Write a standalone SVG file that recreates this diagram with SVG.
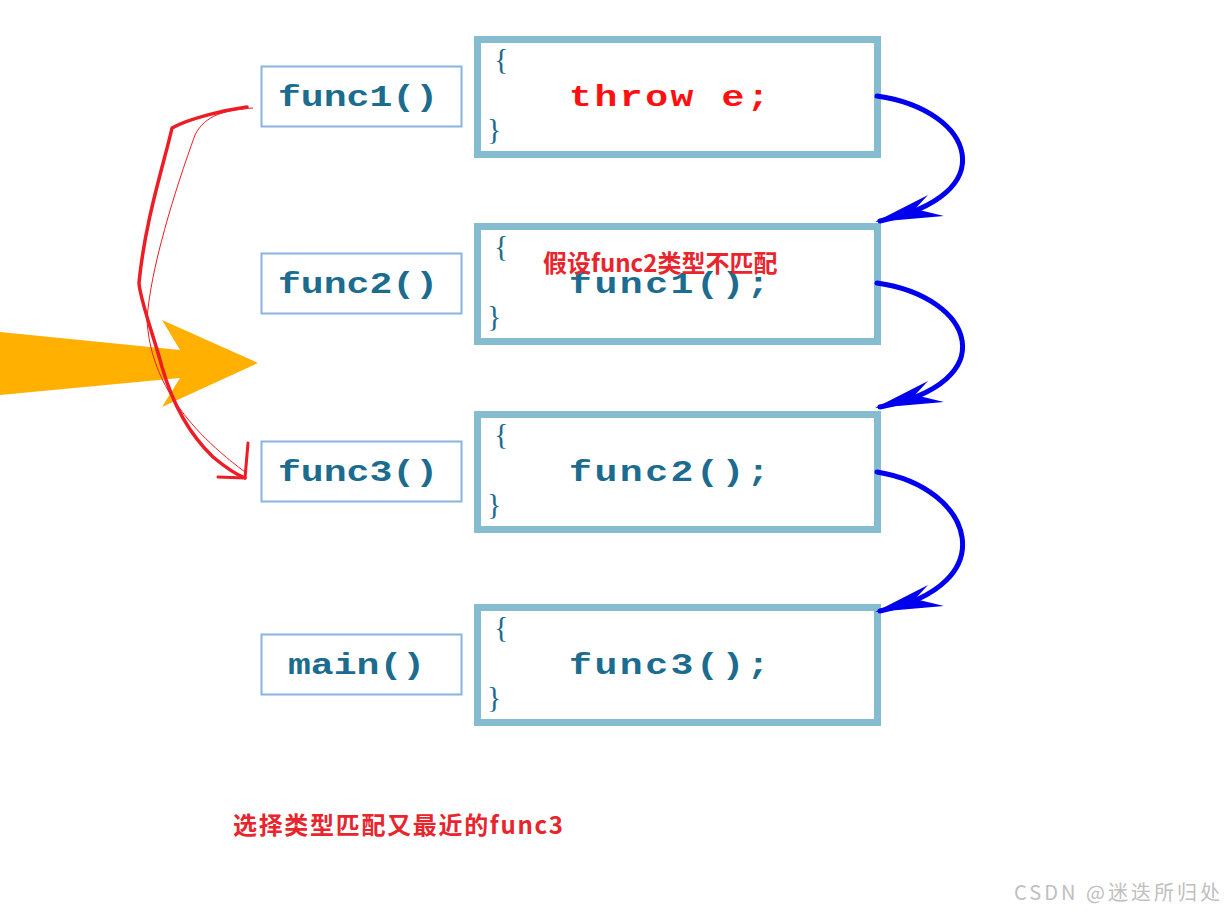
<svg xmlns="http://www.w3.org/2000/svg" width="1225" height="912" viewBox="0 0 1225 912">
<style>
.lbox{fill:#fff;stroke:#8ab4e0;stroke-width:2}
.cbox{fill:#fff;stroke:#86bcd0;stroke-width:7}
.code{font-family:"Liberation Mono",monospace;font-weight:bold;font-size:30px;fill:#1b6c8e}
.rt{letter-spacing:2px}
.br{font-family:"Liberation Serif",serif;font-size:30px;fill:#1b6c8e}
.red{fill:#ff1010}
.lab{font-family:"Noto Sans CJK SC","Noto Sans",sans-serif;font-weight:bold;font-size:24px;fill:#e8242c}
.blue{fill:none;stroke:#0000ee;stroke-width:5;stroke-linecap:round}
.bhead{fill:#0000ee}
.rthick{fill:none;stroke:#ee1c25;stroke-width:3.5;stroke-linejoin:round;stroke-linecap:round}
.rthin{fill:none;stroke:#ee1c25;stroke-width:1}
</style>
<rect width="1225" height="912" fill="#fff"/>
<g id="func1">
<rect class="lbox" x="261.5" y="66.5" width="200" height="60"/>
<text class="code" transform="translate(278,106) scale(1.27,1)">func1()</text>
<rect class="cbox" x="477.5" y="39.5" width="400" height="115"/>
<text class="br" x="494" y="69">{</text>
<text class="code rt red" transform="translate(569,106) scale(1.27,1)">throw e;</text>
<text class="br" x="487" y="139">}</text>
</g>
<g id="func2">
<rect class="lbox" x="261.5" y="253.5" width="200" height="60"/>
<text class="code" transform="translate(278,293) scale(1.27,1)">func2()</text>
<rect class="cbox" x="477.5" y="226.5" width="400" height="115"/>
<text class="br" x="494" y="256">{</text>
<text class="code rt" transform="translate(569,293) scale(1.27,1)">func1();</text>
<text class="br" x="487" y="326">}</text>
</g>
<g id="func3">
<rect class="lbox" x="261.5" y="441.5" width="200" height="60"/>
<text class="code" transform="translate(278,481) scale(1.27,1)">func3()</text>
<rect class="cbox" x="477.5" y="414.5" width="400" height="115"/>
<text class="br" x="494" y="444">{</text>
<text class="code rt" transform="translate(569,481) scale(1.27,1)">func2();</text>
<text class="br" x="487" y="514">}</text>
</g>
<g id="main">
<rect class="lbox" x="261.5" y="634.5" width="200" height="60"/>
<text class="code" transform="translate(288,674) scale(1.27,1)">main()</text>
<rect class="cbox" x="477.5" y="607.5" width="400" height="115"/>
<text class="br" x="494" y="637">{</text>
<text class="code rt" transform="translate(569,674) scale(1.27,1)">func3();</text>
<text class="br" x="487" y="707">}</text>
</g>
<g id="orange-arrow">
<polygon points="0,332 180,350 162,320 258,363 162,407 180,378 0,395" fill="#ffb000"/>
</g>
<g id="connectors">
<path class="blue" d="M877,96 C975,110 1005,195 880,221"/>
<polygon class="bhead" points="875,222 928,195 915,209 944,216"/>
<path class="blue" d="M877,283 C975,297 1005,382 880,407"/>
<polygon class="bhead" points="875,408 928,381 915,395 944,402"/>
<path class="blue" d="M877,472 C975,488 1005,585 880,611"/>
<polygon class="bhead" points="875,612 928,585 915,599 944,606"/>
<path class="rthick" d="M247,107 C225,110 190,118 172,128 C165,160 145,220 139,283 C140,300 155,340 162,367 C170,395 185,430 213,457 C225,467 235,474 245,478"/>
<path class="rthin" d="M253,108 C225,110 205,115 195,135 C175,190 150,270 147,320 C150,370 175,420 245,472"/>
<path d="M248,443 L245,478 L218,477" fill="none" stroke="#ee1c25" stroke-width="3" stroke-linecap="round" stroke-linejoin="round"/>
</g>
<g id="labels">
<text class="lab" x="543" y="272">假设func2类型不匹配</text>
<text class="lab" x="233" y="834" textLength="330" lengthAdjust="spacing">选择类型匹配又最近的func3</text>
<text x="1014" y="900" font-family="Noto Sans CJK SC,Noto Sans,sans-serif" font-size="20" fill="#c0c0c0" textLength="206" lengthAdjust="spacing">CSDN @迷迭所归处</text>
</g>
</svg>
